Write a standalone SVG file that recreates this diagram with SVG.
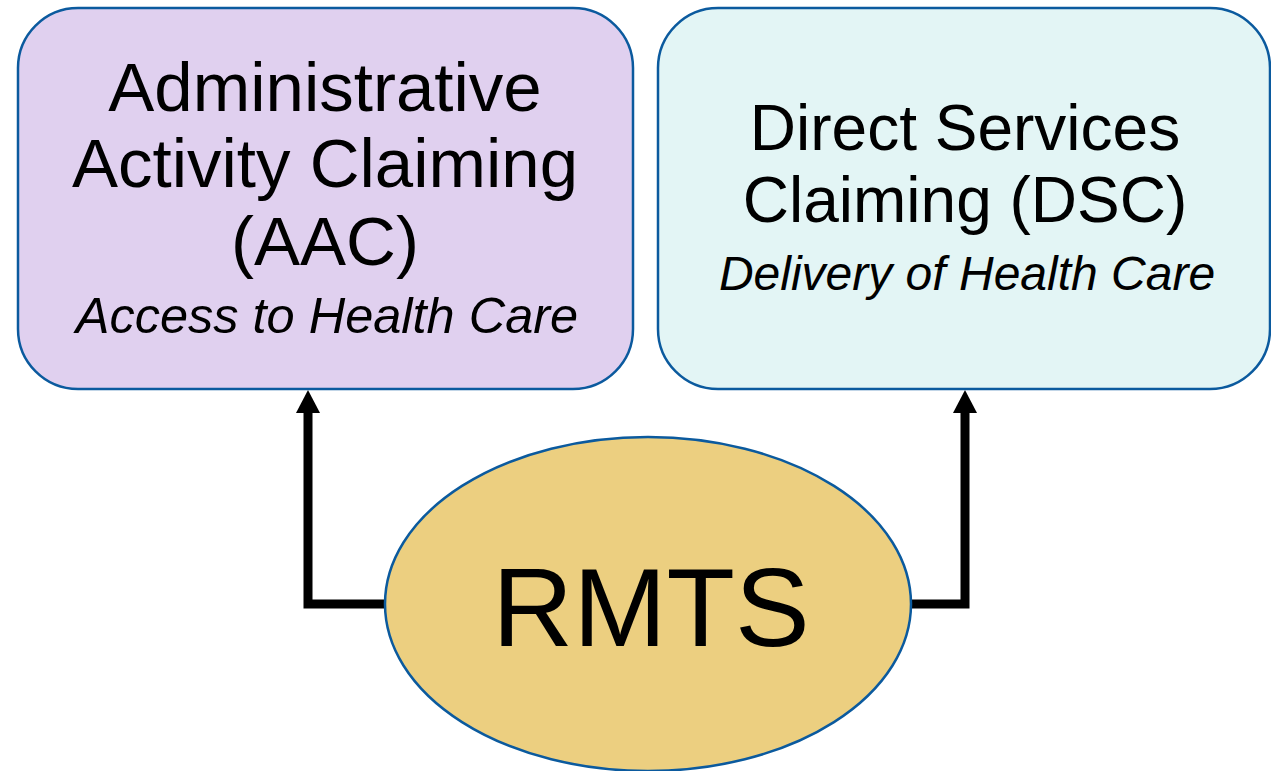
<svg xmlns="http://www.w3.org/2000/svg" width="1271" height="771" viewBox="0 0 1271 771">
<defs>
<style>
.box{stroke:#0B5A9E;stroke-width:2.5}
.t{font-family:"Liberation Sans",Arial,sans-serif;fill:#000;text-anchor:middle}
.i{font-style:italic}
.conn{fill:none;stroke:#000;stroke-width:9}
.head{fill:#000}
</style>
</defs>
<rect width="1271" height="771" fill="#fff"/>
<g id="connectors">
<path class="conn" d="M386,604 H308 V412" />
<path class="head" d="M296,413 L308,390 L320,413 z"/>
<path class="conn" d="M911,604 H965 V412" />
<path class="head" d="M953,413 L965,390 L977,413 z"/>
</g>
<g id="aac">
<rect class="box" x="18" y="8" width="615" height="381" rx="60" ry="60" fill="#E0D0EF"/>
<text class="t" x="325" y="111" font-size="69">Administrative</text>
<text class="t" x="325" y="187" font-size="69">Activity Claiming</text>
<text class="t" x="325" y="265" font-size="69">(AAC)</text>
<text class="t i" x="327" y="333" font-size="50.5">Access to Health Care</text>
</g>
<g id="dsc">
<rect class="box" x="658" y="8" width="612" height="381" rx="60" ry="60" fill="#E3F5F5"/>
<text class="t" x="965" y="150" font-size="64">Direct Services</text>
<text class="t" x="965" y="222" font-size="64">Claiming (DSC)</text>
<text class="t i" x="967" y="290" font-size="48">Delivery of Health Care</text>
</g>
<g id="rmts">
<ellipse class="box" cx="648" cy="604" rx="263" ry="167" fill="#ECCF80"/>
<text class="t" x="651" y="646" font-size="112">RMTS</text>
</g>
</svg>
